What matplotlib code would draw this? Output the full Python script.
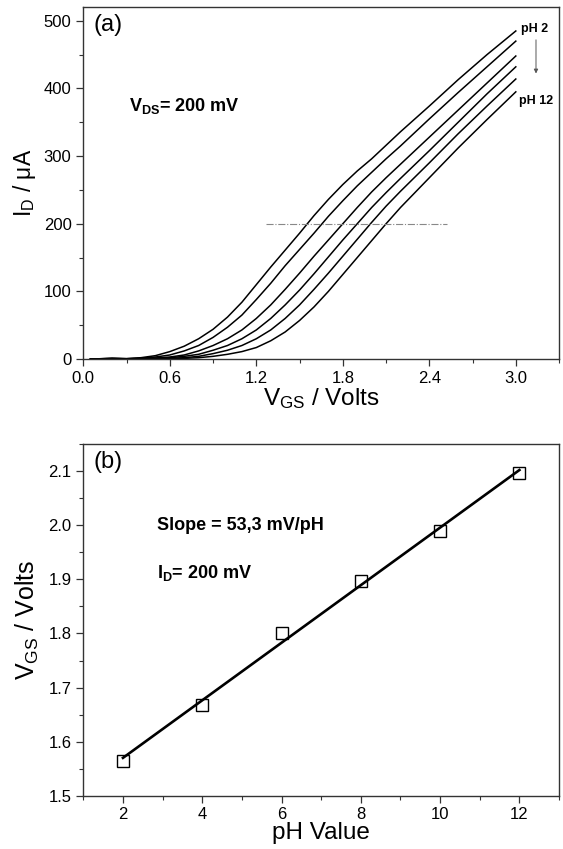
import matplotlib
matplotlib.use("Agg")
import matplotlib.pyplot as plt
import numpy as np
from matplotlib.ticker import MultipleLocator

plt.rcParams['font.family'] = ['Liberation Sans', 'DejaVu Sans']
plt.rcParams['mathtext.default'] = 'regular'

# ---- Panel (a) data: I_D (uA) vs V_GS (V) for pH 2..12 ----
vgs = [0.05, 0.2, 0.3, 0.4, 0.5, 0.6, 0.7, 0.8, 0.9, 1.0, 1.1, 1.2, 1.3, 1.4,
       1.5, 1.6, 1.7, 1.8, 1.9, 2.0, 2.1, 2.2, 2.4, 2.6, 2.8, 3.0]
id_ph2 = [0, 1, 0.6, 2, 5, 11, 19, 30, 44, 62, 84, 110, 136, 161,
          186, 212, 236, 258, 278, 296, 316, 336, 374, 413, 450, 485]
id_ph4 = [0, 1, 0.5, 1.2, 3, 6, 12, 20, 32, 47, 65, 88, 112, 138,
          162, 186, 211, 234, 256, 276, 296, 315, 355, 394, 432, 470]
id_ph6 = [0, 0.8, 0.4, 0.8, 1.5, 3, 6, 12, 20, 30, 43, 60, 80, 103,
          127, 152, 176, 200, 224, 247, 268, 288, 328, 368, 408, 448]
id_ph8 = [0, 0.6, 0.3, 0.6, 1, 2, 4, 7, 13, 20, 30, 43, 60, 80,
          102, 126, 151, 176, 200, 224, 246, 267, 308, 350, 392, 432]
id_ph10 = [0, 0.5, 0.2, 0.4, 0.5, 1, 2, 4, 8, 13, 20, 30, 43, 60,
           80, 103, 127, 152, 177, 202, 226, 248, 290, 333, 374, 414]
id_ph12 = [0, 0.4, 0.2, 0.3, 0.3, 0.5, 1, 2, 4, 7, 11, 17, 27, 40,
           57, 77, 100, 125, 150, 175, 200, 224, 268, 312, 354, 395]
curves_a = [id_ph2, id_ph4, id_ph6, id_ph8, id_ph10, id_ph12]
ref_current = 200
ref_line_x = [1.27, 2.52]

# ---- Panel (b) data: V_GS at I_D=200 vs pH ----
ph = [2, 4, 6, 8, 10, 12]
vgs_ref = [1.565, 1.667, 1.800, 1.898, 1.990, 2.097]

fig = plt.figure(figsize=(5.63, 8.49), dpi=100)
spine_col = '#333333'

def style(ax):
    for s in ax.spines.values():
        s.set_color(spine_col)
        s.set_linewidth(1.0)
    ax.tick_params(which='both', direction='out', top=False, right=False,
                   color=spine_col, labelsize=12)
    ax.tick_params(which='major', length=5, width=0.9)
    ax.tick_params(which='minor', length=3, width=0.8)

# Panel (a)
ax1 = fig.add_axes([0.148, 0.5771, 0.845, 0.4143])
for c in curves_a:
    ax1.plot(vgs, c, color='black', lw=1.1)
ax1.plot(ref_line_x, [ref_current, ref_current], color='#888888', lw=0.8,
         linestyle='-.')
ax1.set_xlim(0, 3.3)
ax1.set_ylim(0, 520)
ax1.xaxis.set_major_locator(MultipleLocator(0.6))
ax1.xaxis.set_minor_locator(MultipleLocator(0.3))
ax1.yaxis.set_major_locator(MultipleLocator(100))
ax1.yaxis.set_minor_locator(MultipleLocator(50))
ax1.xaxis.set_major_formatter(matplotlib.ticker.FormatStrFormatter('%.1f'))
style(ax1)
ax1.set_xlabel('V$_{GS}$ / Volts', fontsize=17.5, labelpad=0)
ax1.set_ylabel('I$_{D}$ / μA', fontsize=16.5, labelpad=4)
ax1.text(0.022, 0.98, '(a)', transform=ax1.transAxes, fontsize=17,
         va='top', ha='left')
ax1.text(0.095, 0.72, 'V$_{DS}$= 200 mV', transform=ax1.transAxes,
         fontsize=13, fontweight='bold', va='center', ha='left')
ax1.text(3.035, 488, 'pH 2', fontsize=9, fontweight='bold', va='center', ha='left')
ax1.text(3.02, 381, 'pH 12', fontsize=9, fontweight='bold', va='center', ha='left')
ax1.annotate('', xy=(3.14, 418), xytext=(3.14, 476),
             arrowprops=dict(arrowstyle='-|>', color='#555555', lw=0.7,
                             mutation_scale=6))

# Panel (b)
ax2 = fig.add_axes([0.148, 0.0628, 0.845, 0.4139])
coef = np.polyfit(ph, vgs_ref, 1)
fit_x = np.array([ph[0], ph[-1]])
ax2.plot(fit_x, np.polyval(coef, fit_x), color='black', lw=1.9)
ax2.plot(ph, vgs_ref, linestyle='none', marker='s', markersize=8,
         markerfacecolor='none', markeredgecolor='black', markeredgewidth=1.0)
ax2.set_xlim(1, 13)
ax2.set_ylim(1.5, 2.15)
ax2.xaxis.set_major_locator(MultipleLocator(2))
ax2.xaxis.set_minor_locator(MultipleLocator(1))
ax2.yaxis.set_major_locator(MultipleLocator(0.1))
ax2.yaxis.set_minor_locator(MultipleLocator(0.05))
ax2.yaxis.set_major_formatter(matplotlib.ticker.FormatStrFormatter('%.1f'))
style(ax2)
ax2.set_xlabel('pH Value', fontsize=17.5, labelpad=0)
ax2.set_ylabel('V$_{GS}$ / Volts', fontsize=18, labelpad=5)
ax2.text(0.022, 0.98, '(b)', transform=ax2.transAxes, fontsize=17,
         va='top', ha='left')
ax2.text(0.155, 0.77, 'Slope = 53,3 mV/pH', transform=ax2.transAxes,
         fontsize=13, fontweight='bold', va='center', ha='left')
ax2.text(0.155, 0.635, 'I$_{D}$= 200 mV', transform=ax2.transAxes,
         fontsize=13, fontweight='bold', va='center', ha='left')

fig.savefig('out.png', dpi=100)
